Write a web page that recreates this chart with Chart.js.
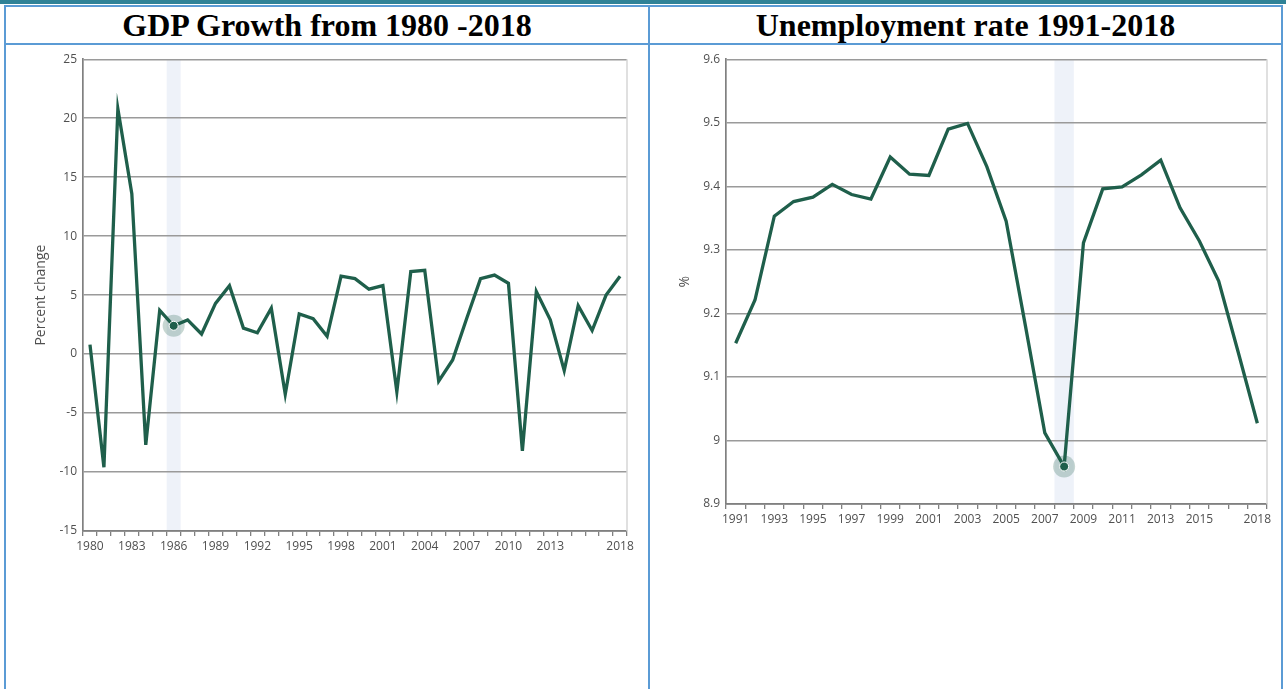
<!DOCTYPE html>
<html>
<head>
<meta charset="utf-8">
<script src="https://cdn.jsdelivr.net/npm/chart.js@4.4.1/dist/chart.umd.min.js"></script>
<style>
  html, body { margin: 0; padding: 0; background: #fff; width: 1286px; height: 689px; overflow: hidden; }
  .abs { position: absolute; }
  .band { left: 0; top: 0; width: 1286px; height: 4px; background: #2f8297; }
  .bl { background: #5b9bd5; }
  .title { position: absolute; top: 7px; height: 37px; line-height: 37px; text-align: center;
           font-family: "Liberation Serif", "Times New Roman", serif; font-weight: bold; font-size: 32px; color: #000; white-space: nowrap; }
  canvas { position: absolute; }
</style>
</head>
<body>
<div class="abs band"></div>
<div class="abs bl" style="left:4px;top:5px;width:1279px;height:2px;"></div>
<div class="abs bl" style="left:4px;top:43px;width:1279px;height:2px;"></div>
<div class="abs bl" style="left:4px;top:5px;width:2px;height:684px;"></div>
<div class="abs bl" style="left:648px;top:5px;width:2px;height:684px;"></div>
<div class="abs bl" style="left:1281px;top:5px;width:2px;height:684px;"></div>
<div class="title" style="left:6px;width:642px;">GDP Growth from 1980 -2018</div>
<div class="title" style="left:650px;width:631px;">Unemployment rate 1991-2018</div>
<canvas id="gdp" width="642" height="520" style="left:6px;top:46px;"></canvas>
<canvas id="unemp" width="632" height="520" style="left:650px;top:46px;"></canvas>
<script>
// ---------- DATA ----------
const gdpYears = ['1980','1981','1982','1983','1984','1985','1986','1987','1988','1989',
  '1990','1991','1992','1993','1994','1995','1996','1997','1998','1999',
  '2000','2001','2002','2003','2004','2005','2006','2007','2008','2009',
  '2010','2011','2012','2013','2014','2015','2016','2017','2018'];
const gdpGrowth = [0.8, -9.6, 20.8, 13.6, -7.7, 3.7, 2.4, 2.9, 1.7, 4.3,
  5.8, 2.2, 1.8, 3.9, -3.4, 3.4, 3.0, 1.5, 6.6, 6.4,
  5.5, 5.8, -3.2, 7.0, 7.1, -2.3, -0.5, 3.0, 6.4, 6.7,
  6.0, -8.2, 5.3, 2.9, -1.4, 4.1, 2.0, 5.0, 6.6];
const gdpTickLabels = ['1980','1983','1986','1989','1992','1995','1998','2001','2004','2007','2010','2013','2018'];
const gdpHighlightYear = '1986';
const gdpAxisTitle = 'Percent change';

const unempYears = ['1991','1992','1993','1994','1995','1996','1997','1998','1999','2000',
  '2001','2002','2003','2004','2005','2006','2007','2008','2009','2010',
  '2011','2012','2013','2014','2015','2016','2017','2018'];
const unempRate = [9.153, 9.221, 9.353, 9.376, 9.383, 9.403, 9.387, 9.380, 9.446, 9.419,
  9.417, 9.490, 9.499, 9.431, 9.345, 9.180, 9.012, 8.959, 9.311, 9.396,
  9.399, 9.418, 9.441, 9.366, 9.314, 9.251, 9.140, 9.027];
const unempTickLabels = ['1991','1993','1995','1997','1999','2001','2003','2005','2007','2009','2011','2013','2015','2018'];
const unempHighlightYear = '2008';
const unempAxisTitle = '%';

// ---------- STYLE ----------
const LINE = '#1f5f4b';
const HALO = 'rgba(31,95,75,0.25)';
const BANDC = '#eef2f9';
const GRID = '#9a9a9a';
const AXIS = '#808080';
const TXT = '#505050';
const FONT = '"Open Sans", "DejaVu Sans", sans-serif';

const decorPlugin = {
  id: 'decor',
  beforeDraw(chart, args, opts) {
    const x = chart.scales.x, area = chart.chartArea;
    const idx = chart.data.labels.indexOf(opts.band);
    if (idx >= 0) {
      const w = x.width / chart.data.labels.length;
      const cx = x.getPixelForValue(idx);
      const ctx = chart.ctx;
      ctx.save();
      ctx.fillStyle = BANDC;
      ctx.fillRect(cx - w / 2, area.top, w, area.bottom - area.top);
      ctx.restore();
    }
  },
  beforeDatasetsDraw(chart) {
    const area = chart.chartArea, ctx = chart.ctx;
    ctx.save();
    ctx.strokeStyle = '#d6d6d6';
    ctx.lineWidth = 1.5;
    ctx.beginPath();
    ctx.moveTo(area.right, area.top);
    ctx.lineTo(area.right, area.bottom);
    ctx.stroke();
    ctx.restore();
  }
};

function makeChart(id, labels, values, tickLabels, highlight, yMin, yMax, step, yTitle, dims, yFmt) {
  const hi = labels.indexOf(highlight);
  const halo = values.map((v, i) => i === hi ? v : null);
  return new Chart(document.getElementById(id), {
    type: 'line',
    data: {
      labels: labels,
      datasets: [
        {
          data: values,
          borderColor: LINE,
          borderWidth: 3.3,
          tension: 0,
          pointRadius: values.map((v, i) => i === hi ? 4.5 : 0),
          pointBackgroundColor: LINE,
          pointBorderColor: '#ffffff',
          pointBorderWidth: 1,
          order: 0
        },
        {
          data: halo,
          showLine: false,
          pointRadius: 11,
          pointBackgroundColor: HALO,
          pointBorderWidth: 0,
          order: 1
        }
      ]
    },
    options: {
      responsive: false,
      devicePixelRatio: 1,
      animation: false,
      events: [],
      layout: { padding: { top: dims.top, right: dims.right, left: 0, bottom: 0 } },
      plugins: { legend: { display: false }, tooltip: { enabled: false }, decor: { band: highlight } },
      scales: {
        x: {
          type: 'category',
          offset: true,
          grid: { offset: true, drawOnChartArea: false, drawTicks: true, tickLength: 5, color: AXIS, lineWidth: 1.3 },
          border: { display: true, color: AXIS, width: 1.7 },
          ticks: {
            autoSkip: false, maxRotation: 0, minRotation: 0, padding: 3,
            color: TXT, font: { family: FONT, size: 12 },
            callback: function (value) {
              const l = this.getLabelForValue(value);
              return tickLabels.includes(l) ? l : '';
            }
          },
          afterFit: (s) => { s.height = dims.xh; }
        },
        y: {
          min: yMin, max: yMax,
          grid: { color: GRID, lineWidth: 1.4, drawTicks: false },
          border: { display: true, color: AXIS, width: 1.7 },
          ticks: { stepSize: step, padding: 6, color: TXT, font: { family: FONT, size: 12 }, callback: yFmt },
          title: { display: true, text: yTitle, color: TXT, font: { family: FONT, size: 14 }, padding: { top: 27, bottom: 0 } },
          afterFit: (s) => { s.width = dims.yw; }
        }
      }
    },
    plugins: [decorPlugin]
  });
}

makeChart('gdp', gdpYears, gdpGrowth, gdpTickLabels, gdpHighlightYear, -15, 25, 5, gdpAxisTitle,
  { top: 12, right: 21, xh: 35, yw: 77 }, (v) => String(v));
makeChart('unemp', unempYears, unempRate, unempTickLabels, unempHighlightYear, 8.9, 9.6, 0.1, unempAxisTitle,
  { top: 11, right: 15, xh: 62, yw: 76 }, (v) => String(Number(v.toFixed(1))));
</script>
</body>
</html>
